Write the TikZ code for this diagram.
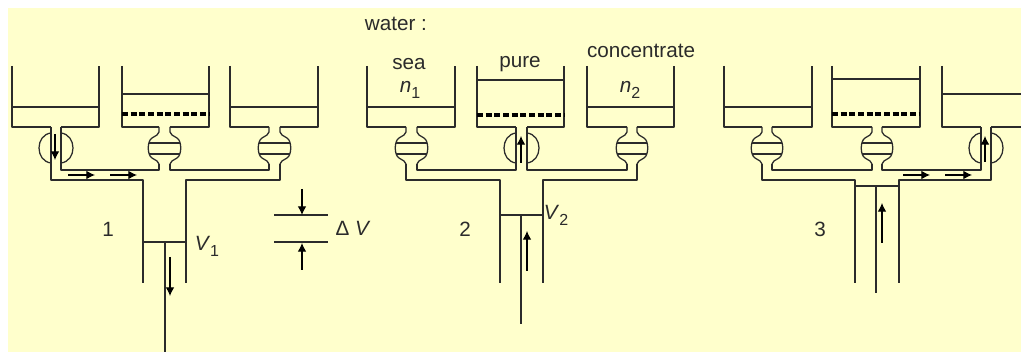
\documentclass[tikz,border=0pt]{standalone}
\usepackage{fontspec}
\setmainfont{Liberation Sans}
\usetikzlibrary{arrows.meta}
\definecolor{paper}{HTML}{FFFFCC}
\definecolor{ink}{HTML}{2B2B2B}
\newcommand{\idx}[1]{\raisebox{-4.5pt}{\fontsize{12}{12}\selectfont #1}}
\begin{document}
\begin{tikzpicture}[x=0.75pt, y=-0.75pt,
  pipe/.style={ink, line width=0.95pt, line join=round},
  membrane/.style={black, line width=2.4pt, dash pattern=on 4.6pt off 1.9pt},
  flow/.style={black, line width=0.85pt, -{Latex[length=6.5pt,width=6.5pt]}},
  label/.style={ink, font=\fontsize{15.5}{16}\selectfont, inner sep=0pt}]
  \useasboundingbox (0,0) rectangle (1021,352);
  \fill[paper] (8,8) rectangle (1021,352);
  % tanks: left wall, neck, right wall, water level
  \foreach \l/\a/\b/\r/\w in {12/51/61/99/107, 122/159/170/209/94, 230/269/280/318/107,
      367/406/417/455/107, 477/516/527/564/80, 587/627/637/674/107,
      724/762/772/812/107, 832/872/882/920/79} {
    \draw[pipe] (\l,66) -- (\l,127) -- (\a,127);
    \draw[pipe] (\b,127) -- (\r,127) -- (\r,66);
    \draw[pipe] (\l,\w) -- (\r,\w);
  }
  \draw[pipe] (942,66) -- (942,127) -- (981,127);
  \draw[pipe] (991,127) -- (1021,127);
  \draw[pipe] (942,94) -- (1021,94);
  \draw[membrane] (122,114) -- (209,114);
  \draw[membrane] (477,115) -- (564,115);
  \draw[membrane] (832,114) -- (920,114);
  % closed valves
  \foreach \a/\b in {159/170, 269/280, 406/417, 627/637, 762/772, 872/882} {
    \draw[pipe] (\a,127) -- (\a,132) -- ({\a-2},135) -- ({\a-7},138) .. controls ({\a-12},141) and ({\a-12},155) .. ({\a-7},158) -- ({\a-2},161) -- (\a,164);
    \draw[pipe] (\b,127) -- (\b,132) -- ({\b+2},135) -- ({\b+7},138) .. controls ({\b+12},141) and ({\b+12},155) .. ({\b+7},158) -- ({\b+2},161) -- (\b,164);
    \draw[pipe] ({\a-10},143) -- ({\b+10},143);
    \draw[pipe] ({\a-10},154) -- ({\b+10},154);
  }
  % open valves
  \foreach \a/\b in {51/61, 516/527, 981/991} {
    \draw[pipe] (\a,133) .. controls ({\a-16},135) and ({\a-16},161) .. (\a,163);
    \draw[pipe] (\b,133) .. controls ({\b+16},135) and ({\b+16},161) .. (\b,163);
  }
  % state 1
  \draw[pipe] (61,127) -- (61,170) -- (159,170) -- (159,164);
  \draw[pipe] (170,164) -- (170,170) -- (269,170) -- (269,164);
  \draw[pipe] (51,127) -- (51,180) -- (143,180) -- (143,283);
  \draw[pipe] (186,283) -- (186,180) -- (280,180) -- (280,164);
  \draw[pipe] (143,242) -- (186,242);
  \draw[pipe] (165,242) -- (165,352);
  \draw[flow] (55,134) -- (55,160);
  \draw[flow] (68,175) -- (95,175);
  \draw[flow] (110,175) -- (137,175);
  \draw[flow] (170,257) -- (170,296);
  % volume change
  \draw[pipe] (274,215) -- (328,215);
  \draw[pipe] (274,242) -- (328,242);
  \draw[flow] (302,189) -- (302,215);
  \draw[flow] (302,270) -- (302,243);
  % state 2
  \draw[pipe] (417,164) -- (417,170) -- (516,170) -- (516,127);
  \draw[pipe] (527,127) -- (527,170) -- (627,170) -- (627,164);
  \draw[pipe] (406,164) -- (406,180) -- (500,180) -- (500,283);
  \draw[pipe] (543,283) -- (543,180) -- (637,180) -- (637,164);
  \draw[pipe] (500,215) -- (543,215);
  \draw[pipe] (521,215) -- (521,324);
  \draw[flow] (521,163) -- (521,136);
  \draw[flow] (527,271) -- (527,231);
  % state 3
  \draw[pipe] (772,164) -- (772,170) -- (872,170) -- (872,164);
  \draw[pipe] (882,164) -- (882,170) -- (981,170) -- (981,127);
  \draw[pipe] (762,164) -- (762,180) -- (855,180) -- (855,283);
  \draw[pipe] (899,283) -- (899,180) -- (991,180) -- (991,127);
  \draw[pipe] (855,186) -- (899,186);
  \draw[pipe] (876,186) -- (876,293);
  \draw[flow] (985,162) -- (985,136);
  \draw[flow] (903,175) -- (930,175);
  \draw[flow] (945,175) -- (972,175);
  \draw[flow] (882,243) -- (882,203);
  % labels
  \node[label] (water) at (396,24) {water :};
  \node[label] (sea) at (409,64) {sea};
  \node[label] (pure) at (520,64) {pure};
  \node[label] (concentrate) at (641,51) {concentrate};
  \node[label] (nOne) at (410,90) {\textit{n}\idx{1}};
  \node[label] (nTwo) at (630,90) {\textit{n}\idx{2}};
  \node[label] (stageOne) at (108,229) {1};
  \node[label] (stageTwo) at (465,229) {2};
  \node[label] (stageThree) at (820,229) {3};
  \node[label] (vOne) at (207,246) {\textit{V}\idx{1}};
  \node[label] (vTwo) at (556,215) {\textit{V}\idx{2}};
  \node[label] (deltaV) at (353,228) {Δ \textit{V}};
\end{tikzpicture}
\end{document}
